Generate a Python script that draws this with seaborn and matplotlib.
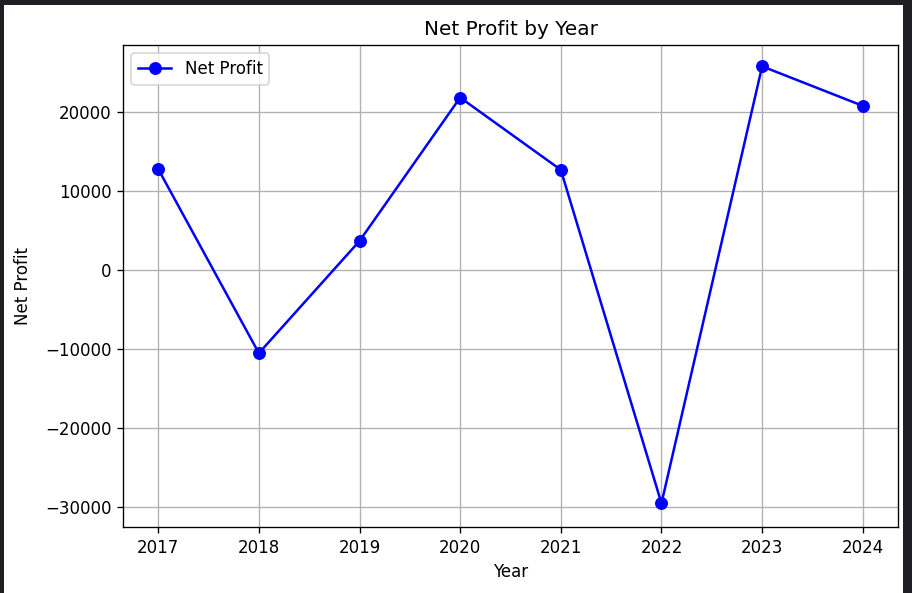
import matplotlib
matplotlib.use("Agg")
import matplotlib.pyplot as plt
from matplotlib.patches import Rectangle
import seaborn as sns
import pandas as pd

years = [2017, 2018, 2019, 2020, 2021, 2022, 2023, 2024]
net_profit = [12800, -10500, 3700, 21850, 12700, -29500, 25800, 20800]
y_ticks = [-30000, -20000, -10000, 0, 10000, 20000]

df = pd.DataFrame({"Year": years, "Net Profit": net_profit})

W, H, DPI = 912, 593, 120
fig = plt.figure(figsize=(W / DPI, H / DPI), dpi=DPI)
ax = fig.add_axes([123 / W, 1 - 527 / H, (898 - 123) / W, (527 - 45) / H])

sns.lineplot(data=df, x="Year", y="Net Profit", ax=ax, color="blue",
             marker="o", markeredgecolor="blue", markersize=7,
             linewidth=1.5, label="Net Profit")

ax.set_xticks(years)
ax.set_yticks(y_ticks)
ax.set_ylim(-32500, 28500)
ax.set_xlim(2016.65, 2024.35)
ax.grid(True, color="#b0b0b0", linewidth=0.8)
ax.set_title("Net Profit by Year", fontsize=12)
ax.set_xlabel("Year")
ax.set_ylabel("Net Profit", labelpad=7.5)
ax.legend(loc="upper left")

dark = "#1e1f22"
fig.patches.append(Rectangle((0, 0), 4 / W, 1, transform=fig.transFigure,
                             facecolor=dark, edgecolor="none", zorder=10))
fig.patches.append(Rectangle((0, 1 - 5 / H), 1, 5 / H, transform=fig.transFigure,
                             facecolor=dark, edgecolor="none", zorder=10))
fig.patches.append(Rectangle((903 / W, 0), 9 / W, 1, transform=fig.transFigure,
                             facecolor=dark, edgecolor="none", zorder=10))

fig.savefig("out.png", dpi=DPI)
